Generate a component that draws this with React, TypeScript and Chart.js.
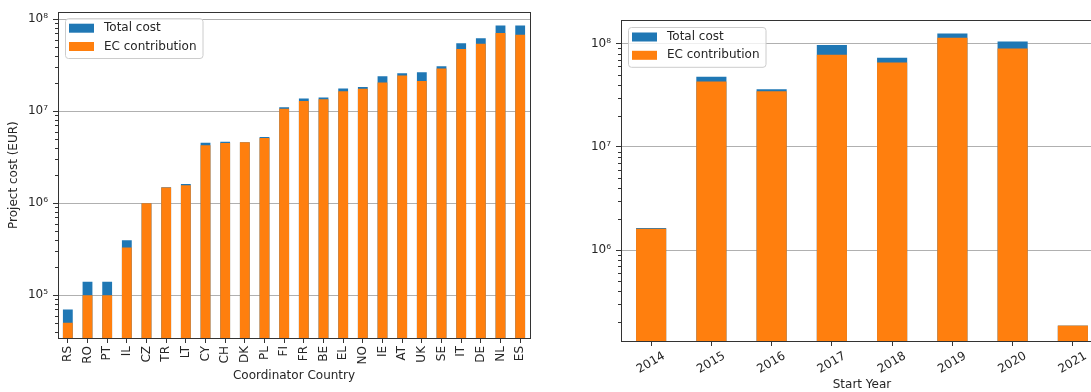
import { useEffect, useRef } from 'react';
import { Chart, registerables } from 'chart.js';

Chart.register(...registerables);

// Project costs per coordinator country (EUR)
const countries = ['RS', 'RO', 'PT', 'IL', 'CZ', 'TR', 'LT', 'CY', 'CH', 'DK', 'PL', 'FI', 'FR', 'BE', 'EL', 'NO', 'IE', 'AT', 'UK', 'SE', 'IT', 'DE', 'NL', 'ES'];
const countryTotal = [70000, 140000, 140000, 395000, 1000000, 1490000, 1610000, 4540000, 4650000, 4600000, 5220000, 11000000, 13700000, 14100000, 17600000, 18300000, 23900000, 25800000, 26500000, 30800000, 54600000, 62000000, 85500000, 85500000];
const countryEC = [50000, 100000, 100000, 330000, 1000000, 1480000, 1560000, 4250000, 4500000, 4600000, 5100000, 10600000, 12900000, 13500000, 16500000, 17500000, 20500000, 24400000, 21300000, 29000000, 47300000, 54100000, 70500000, 67800000];

// Project costs per start year (EUR)
const years = ['2014', '2015', '2016', '2017', '2018', '2019', '2020', '2021'];
const yearTotal = [1640000, 47600000, 36100000, 97000000, 72800000, 125000000, 104500000, 186000];
const yearEC = [1610000, 42900000, 34500000, 77800000, 65600000, 113500000, 89500000, 186000];

const seriesLabels = ['Total cost', 'EC contribution'];
const superscripts = ['⁰', '¹', '²', '³', '⁴', '⁵', '⁶', '⁷', '⁸', '⁹'];

const FONT = 'DejaVu Sans';
const TEXT = '#262626';
const SPINE = '#333333';
const GRID = '#b0b0b0';
const BLUE = '#1f77b4';
const ORANGE = '#ff7f0e';

const isDecade = (v: number) => {
  const e = Math.log10(v);
  return Math.abs(e - Math.round(e)) < 1e-9;
};

const decadeLabel = (v: number) =>
  '10' + String(Math.round(Math.log10(v))).split('').map((d) => superscripts[+d]).join('');

// 1..9 x 10^n ticks covering the axis range
function logTicks(min: number, max: number) {
  const out: { value: number; major: boolean }[] = [];
  for (let e = Math.floor(Math.log10(min)); e <= Math.ceil(Math.log10(max)); e++) {
    for (let k = 1; k <= 9; k++) {
      const v = k * Math.pow(10, e);
      if (v >= min && v <= max) out.push({ value: v, major: k === 1 });
    }
  }
  return out;
}

// Frame around the plot area plus short minor ticks on the y axis
const framePlugin = {
  id: 'frame',
  afterDraw(chart: any) {
    const { ctx, chartArea } = chart;
    const y = chart.scales.y;
    ctx.save();
    ctx.strokeStyle = SPINE;
    ctx.lineWidth = 1;
    ctx.beginPath();
    for (const t of y.ticks) {
      if (isDecade(t.value)) continue;
      const py = Math.round(y.getPixelForValue(t.value)) + 0.5;
      ctx.moveTo(chartArea.left - 3, py);
      ctx.lineTo(chartArea.left, py);
    }
    ctx.stroke();
    ctx.strokeRect(
      Math.round(chartArea.left) + 0.5,
      Math.round(chartArea.top) + 0.5,
      Math.round(chartArea.right - chartArea.left),
      Math.round(chartArea.bottom - chartArea.top)
    );
    ctx.restore();
  },
};

// Legend box drawn inside the plot area, upper left
function makeInsetLegend(dx: number, dy: number) {
  return {
    id: 'insetLegend',
    afterDraw(chart: any) {
      const { ctx, chartArea } = chart;
      const items = chart.data.datasets.map((d: any) => ({ label: d.label, color: d.backgroundColor }));
      ctx.save();
      ctx.font = `12px "${FONT}"`;
      const textW = Math.max(...items.map((i: any) => ctx.measureText(i.label).width));
      const x = chartArea.left + dx;
      const y = chartArea.top + dy;
      const w = 39 + textW + 6;
      const rowH = 18.3;
      const h = 10 + rowH * (items.length - 1) + 11.5;
      ctx.beginPath();
      ctx.roundRect(x + 0.5, y + 0.5, w, h, 3);
      ctx.fillStyle = 'rgba(255,255,255,0.8)';
      ctx.fill();
      ctx.strokeStyle = '#cccccc';
      ctx.lineWidth = 1;
      ctx.stroke();
      items.forEach((it: any, i: number) => {
        const cy = y + 10 + i * rowH;
        ctx.fillStyle = it.color;
        ctx.fillRect(x + 4, cy - 4.5, 25, 9);
        ctx.fillStyle = TEXT;
        ctx.textBaseline = 'middle';
        ctx.textAlign = 'left';
        ctx.fillText(it.label, x + 39, cy);
      });
      ctx.restore();
    },
  };
}

type PanelProps = {
  left: number;
  width: number;
  labels: string[];
  total: number[];
  ec: number[];
  yMin: number;
  yMax: number;
  yWidth: number;
  xHeight: number;
  padTop: number;
  padRight: number;
  xTitle: string;
  xTitlePad: number;
  yTitle?: string;
  rotation: number;
  labelOffset: number;
  legendDx: number;
  legendDy: number;
};

function Panel(p: PanelProps) {
  const ref = useRef<HTMLCanvasElement>(null);

  useEffect(() => {
    if (!ref.current) return;
    const font = { family: FONT, size: 12 };
    const chart = new Chart(ref.current, {
      type: 'bar',
      data: {
        labels: p.labels,
        datasets: [
          {
            label: seriesLabels[0],
            data: p.total,
            backgroundColor: BLUE,
            order: 1,
            grouped: false,
            barPercentage: 0.5,
            categoryPercentage: 1,
          },
          {
            label: seriesLabels[1],
            data: p.ec,
            backgroundColor: ORANGE,
            order: 0,
            grouped: false,
            barPercentage: 0.5,
            categoryPercentage: 1,
          },
        ],
      },
      options: {
        responsive: false,
        maintainAspectRatio: false,
        animation: false,
        layout: { padding: { top: p.padTop, right: p.padRight, left: 0, bottom: 0 } },
        plugins: { legend: { display: false }, tooltip: { enabled: false } },
        scales: {
          x: {
            type: 'category',
            offset: true,
            ticks: {
              autoSkip: false,
              minRotation: p.rotation,
              maxRotation: p.rotation,
              labelOffset: p.labelOffset,
              font,
              color: TEXT,
              padding: 3,
            },
            grid: { drawOnChartArea: false, offset: false, tickLength: 5, tickColor: SPINE },
            border: { color: SPINE },
            title: {
              display: true,
              text: p.xTitle,
              font,
              color: TEXT,
              padding: { top: 0, bottom: p.xTitlePad },
            },
            afterFit: (s: any) => {
              s.height = p.xHeight;
            },
          },
          y: {
            type: 'logarithmic',
            min: p.yMin,
            max: p.yMax,
            z: 1,
            afterBuildTicks: (s: any) => {
              s.ticks = logTicks(s.min, s.max);
            },
            ticks: {
              autoSkip: false,
              font,
              color: TEXT,
              padding: 5,
              callback: (v: any) => (isDecade(Number(v)) ? decadeLabel(Number(v)) : ''),
            },
            grid: {
              color: (c: any) => (c.tick && isDecade(c.tick.value) ? GRID : 'rgba(0,0,0,0)'),
              tickColor: (c: any) => (c.tick && isDecade(c.tick.value) ? SPINE : 'rgba(0,0,0,0)'),
              tickLength: 5,
              lineWidth: 1,
            },
            border: { color: SPINE },
            title: {
              display: !!p.yTitle,
              text: p.yTitle || '',
              font,
              color: TEXT,
              padding: { top: 7, bottom: 0 },
            },
            afterFit: (s: any) => {
              s.width = p.yWidth;
            },
          },
        },
      } as any,
      plugins: [framePlugin, makeInsetLegend(p.legendDx, p.legendDy)],
    });
    return () => chart.destroy();
  }, []);

  return (
    <canvas
      ref={ref}
      width={p.width}
      height={392}
      style={{ position: 'absolute', left: p.left, top: 0, width: p.width, height: 392 }}
    />
  );
}

export default function App() {
  return (
    <div
      style={{
        position: 'fixed',
        left: 0,
        top: 0,
        width: 1091,
        height: 392,
        overflow: 'hidden',
        background: '#ffffff',
      }}
    >
      <Panel
        left={0}
        width={545}
        labels={countries}
        total={countryTotal}
        ec={countryEC}
        yMin={34200}
        yMax={1.19e8}
        yWidth={58}
        xHeight={54}
        padTop={11}
        padRight={15}
        xTitle="Coordinator Country"
        xTitlePad={9}
        yTitle="Project cost (EUR)"
        rotation={90}
        labelOffset={0}
        legendDx={7}
        legendDy={6}
      />
      <Panel
        left={545}
        width={565}
        labels={years}
        total={yearTotal}
        ec={yearEC}
        yMin={1.32e5}
        yMax={1.69e8}
        yWidth={76}
        xHeight={51}
        padTop={20}
        padRight={7}
        xTitle="Start Year"
        xTitlePad={0}
        rotation={30}
        labelOffset={13}
        legendDx={7}
        legendDy={7}
      />
    </div>
  );
}
